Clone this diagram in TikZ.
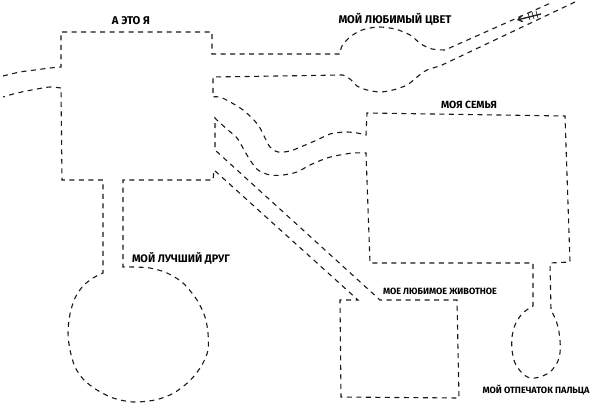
\documentclass[tikz,border=0pt]{standalone}
\usepackage{fontspec}
\setmainfont{Fira Sans}
\usetikzlibrary{arrows.meta}
\newcommand\lab[2]{\resizebox{#1pt}{!}{\bfseries #2}}
\tikzset{
  sketch/.style={draw=black!90, line width=1.1pt, dash pattern=on 5pt off 4.5pt},
  lbl/.style={inner sep=0pt, text=black, font=\fontsize{10}{12}\selectfont}
}
\begin{document}
\begin{tikzpicture}[x=1pt,y=-1pt]
\useasboundingbox[fill=white] (0,0) rectangle (600,414);

% upper left road, main box top, favourite colour oval (upper), road to top right
\path[sketch] plot[smooth] coordinates {(3,76) (20,72) (35,70) (50,68) (61,67)}
  -- (61,32) -- (212,32) -- (212,54) -- (340,54)
  -- plot[smooth] coordinates {(340,54) (342,46) (350,37) (362,30) (378,27) (395,29) (410,35) (421,44) (432,49) (445,50)}
  -- (553,2);

% everything else as one outline
\path[sketch] (575,2) -- (440,66)
  -- plot[smooth] coordinates {(440,66) (427,70) (417,77) (407,85) (393,90) (380,92) (367,90) (357,86) (350,79) (343,75)}
  -- (213,77) -- (213,97)
  -- plot[smooth] coordinates {(213,97) (220,97) (232,103) (243,110) (253,119) (260,128) (265,138) (270,147) (278,152) (290,151) (303,146) (317,140) (330,134) (345,132) (357,133) (366,135)}
  -- (367,113) -- (565,116) -- (570,262) -- (550,263) -- (551,310)
  -- plot[smooth] coordinates {(551,310) (555,318) (558,327) (560,340) (560,353) (557,363) (550,372) (540,377) (530,378) (522,373) (515,363) (512,350) (512,337) (515,325) (521,315) (528,309) (533,306)}
  -- (533,263) -- (370,263) -- (366,153)
  -- plot[smooth] coordinates {(366,153) (353,153) (340,155) (327,158) (310,165) (297,172) (283,175) (270,175) (258,170) (250,160) (243,148) (237,138) (228,130) (219,122) (215,118)}
  -- (215,150) -- (380,300) -- (457,300) -- (459,398) -- (341,397) -- (340,300) -- (358,300)
  -- (214,170) -- (213,180) -- (123,180) -- (123,267)
  -- plot[smooth] coordinates {(123,267) (133,267) (150,268) (167,273) (183,283) (197,300) (205,317) (208,333) (208,350) (203,363) (195,375) (185,385) (172,394) (155,400) (133,402) (113,398) (97,390) (84,380) (75,367) (70,350) (68,333) (70,314) (75,298) (83,286) (93,278) (103,273)}
  -- (103,180) -- (62,180) -- (61,88)
  -- plot[smooth] coordinates {(61,88) (50,87) (37,89) (17,93) (3,97)};

% small arrow doodle
\draw[black!85, line width=1.4pt, -{Straight Barb[length=4pt,width=6pt]}] (541,14) -- (517,20);
\draw[black!85, line width=0.7pt] (532,12) -- (534,19) (536,11) -- (538,18) (528,13) -- (530,20);

% labels
\node[lbl] (me) at (131,21) {\lab{38}{А ЭТО Я}};
\node[lbl] (color) at (395,19) {\lab{113}{МОЙ ЛЮБИМЫЙ ЦВЕТ}};
\node[lbl] (family) at (469,105) {\lab{56}{МОЯ СЕМЬЯ}};
\node[lbl] (friend) at (181,258) {\lab{98}{МОЙ ЛУЧШИЙ ДРУГ}};
\node[lbl] (pet) at (440,291) {\lab{114}{МОЕ ЛЮБИМОЕ ЖИВОТНОЕ}};
\node[lbl] (finger) at (536,390) {\lab{107}{МОЙ ОТПЕЧАТОК ПАЛЬЦА}};
\end{tikzpicture}
\end{document}
